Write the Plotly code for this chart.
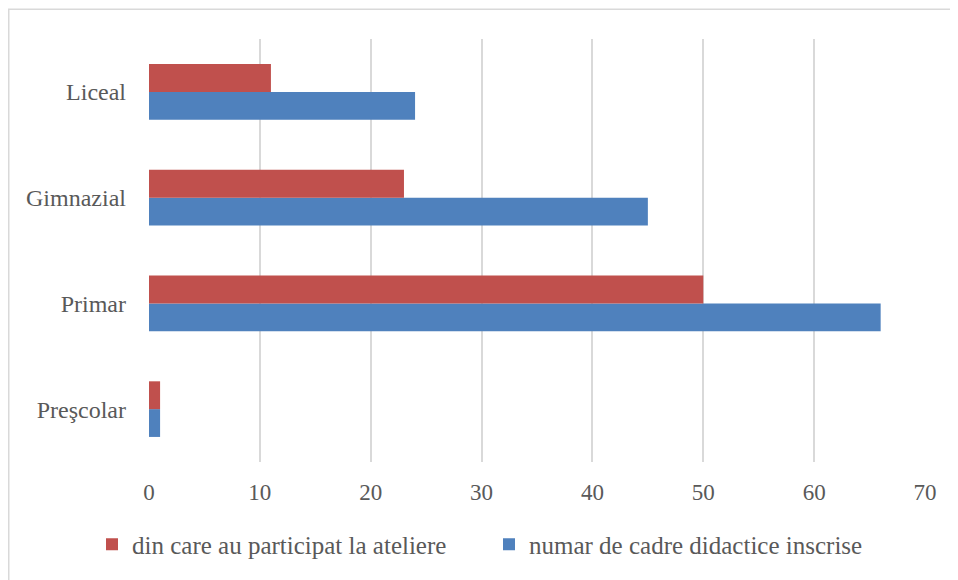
import plotly.graph_objects as go

categories = ["Preşcolar", "Primar", "Gimnazial", "Liceal"]
participanti = [1, 50, 23, 11]
inscrise = [1, 66, 45, 24]
x_ticks = [0, 10, 20, 30, 40, 50, 60, 70]

name_red = "din care au participat la ateliere"
name_blue = "numar de cadre didactice inscrise"

FONT = "Liberation Serif"
TXT = "#595959"

fig = go.Figure()
fig.add_trace(go.Bar(y=categories, x=inscrise, orientation="h", name=name_blue,
                     marker=dict(color="#4F81BD", line=dict(width=0))))
fig.add_trace(go.Bar(y=categories, x=participanti, orientation="h", name=name_red,
                     marker=dict(color="#C0504D", line=dict(width=0))))

# page body has an 8px margin, so figure coordinates are screen - 8
W, H = 950, 572
L, T = 141, 31
R, B = W - 917, H - 457
pw, ph = W - L - R, H - T - B

bx0 = (0.75 - L) / pw
bx1 = (W + 20 - L) / pw
by1 = 1 + (T - 1) / ph
by0 = -(H + 20 - (T + ph)) / ph
border_path = f"M {bx1},{by1} L {bx0},{by1} L {bx0},{by0}"

fig.update_layout(
    width=W, height=H,
    margin=dict(l=L, r=R, t=T, b=B),
    paper_bgcolor="white", plot_bgcolor="white",
    barmode="group", bargap=0.474, bargroupgap=0,
    font=dict(family=FONT, size=23, color=TXT),
    xaxis=dict(range=[0, 70], tickvals=x_ticks, showgrid=True, gridcolor="#D9D9D9",
               gridwidth=1.5, zeroline=False, showline=False, ticks="",
               ticklabelstandoff=14, tickfont=dict(size=23, color=TXT)),
    yaxis=dict(range=[-0.5, 3.5], showgrid=False, zeroline=False, showline=False,
               ticks="", ticklabelstandoff=22, tickfont=dict(size=24, color=TXT)),
    legend=dict(orientation="h", traceorder="reversed", x=(84 - L) / pw, xanchor="left",
                y=-(540 - (T + ph)) / ph, yanchor="middle", entrywidth=352,
                entrywidthmode="pixels", font=dict(size=25, color=TXT),
                bgcolor="rgba(0,0,0,0)"),
    showlegend=True,
    shapes=[dict(type="path", xref="paper", yref="paper", path=border_path,
                 line=dict(color="#D9D9D9", width=1.5), layer="below")],
)

fig.write_html("out.html")
